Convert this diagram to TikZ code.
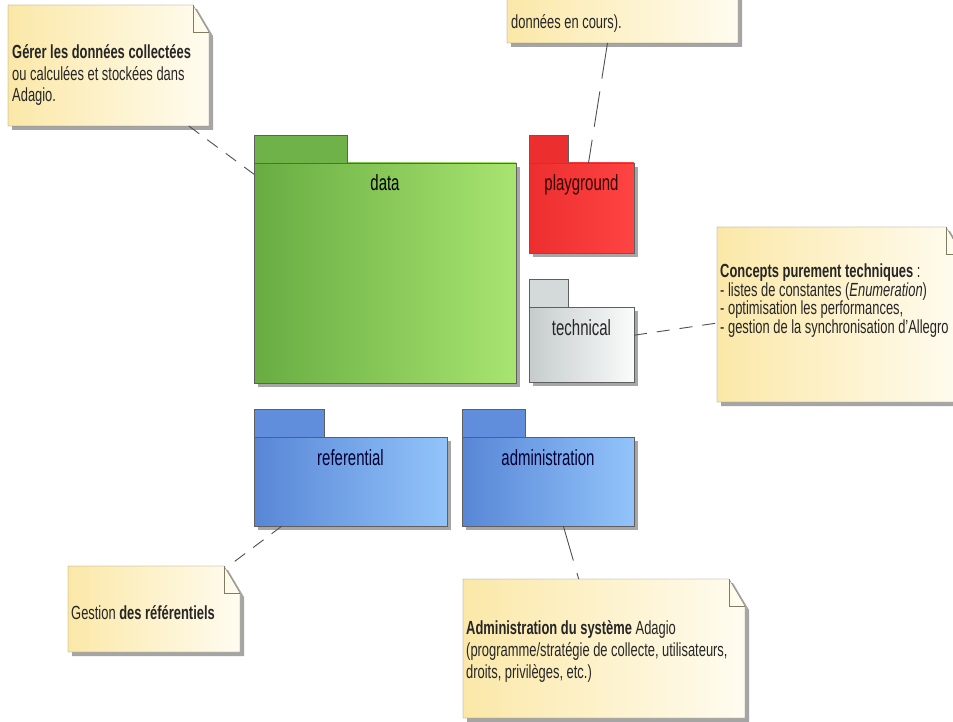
\documentclass[tikz,border=0pt]{standalone}
\usepackage{fontspec}
\setmainfont{Liberation Sans}[FakeStretch=0.68]
\usetikzlibrary{positioning, calc, shadows}

\definecolor{pkgLine}{RGB}{95,95,95}
\definecolor{dataLeft}{RGB}{104,172,66}
\definecolor{dataRight}{RGB}{168,228,112}
\definecolor{dataTab}{RGB}{112,178,74}
\definecolor{playLeft}{RGB}{236,46,46}
\definecolor{playRight}{RGB}{255,68,68}
\definecolor{techLeft}{RGB}{198,204,204}
\definecolor{techRight}{RGB}{250,251,251}
\definecolor{techTab}{RGB}{212,218,218}
\definecolor{refLeft}{RGB}{88,134,214}
\definecolor{refRight}{RGB}{146,196,250}
\definecolor{refTab}{RGB}{96,142,220}
\definecolor{noteLeft}{RGB}{251,232,168}
\definecolor{noteRight}{RGB}{255,252,240}
\definecolor{noteLine}{RGB}{128,124,100}
\definecolor{noteShadow}{RGB}{165,165,165}
\definecolor{linkGray}{RGB}{80,80,80}

\begin{document}
\begin{tikzpicture}[
            x=1pt, y=1pt,
            pkg body/.style={
                draw=pkgLine, line width=.8pt,
                inner sep=0pt, outer sep=0pt, anchor=north west,
                drop shadow={shadow xshift=4pt, shadow yshift=-4pt,
                             fill=black, opacity=.35},
            },
            pkg tab/.style={draw=pkgLine, line width=.8pt, inner sep=0pt,
                            outer sep=0pt, minimum height=28pt},
            pkg name/.style={font=\fontsize{22}{25}\selectfont, anchor=base},
            note frame/.style={inner sep=0pt, outer sep=0pt, anchor=north west},
            note text/.style={
                font=\fontsize{19}{21.7}\selectfont, text=black!85,
                align=left, inner sep=0pt, anchor=base west,
            },
            note link/.style={draw=linkGray, line width=.9pt,
                              dash pattern=on 13pt off 10pt},
            long link/.style={note link, dash pattern=on 36pt off 13pt},
        ]
        \useasboundingbox (0,0) rectangle (953,-722);
        \clip (0,0) rectangle (953,-722);
        \fill[white] (0,0) rectangle (953,-722);

        % packages
        \node[pkg body, minimum width=262pt, minimum height=220pt,
              left color=dataLeft, right color=dataRight] (data) at (254,-163) {};
        \node[pkg tab, minimum width=93pt, fill=dataTab,
              above right=0pt of data.north west] (dataTab) {};
        \node[pkg name] (dataName) at ($(data.north)+(0,-28)$) {data};

        \node[pkg body, minimum width=105pt, minimum height=90pt,
              left color=playLeft, right color=playRight] (playground) at (529,-163) {};
        \node[pkg tab, minimum width=39pt, fill=playLeft,
              above right=0pt of playground.north west] (playTab) {};
        \node[pkg name, text=black!80!red] (playName)
              at ($(playground.north)+(0,-28)$) {playground};

        \node[pkg body, minimum width=105pt, minimum height=75pt,
              left color=techLeft, right color=techRight] (technical) at (529,-307) {};
        \node[pkg tab, minimum width=39pt, fill=techTab,
              above right=0pt of technical.north west] (techTab) {};
        \node[pkg name, text=black!85] (techName)
              at ($(technical.north)+(0,-28)$) {technical};

        \node[pkg body, minimum width=193pt, minimum height=89pt,
              left color=refLeft, right color=refRight] (referential) at (254,-437) {};
        \node[pkg tab, minimum width=70pt, fill=refTab,
              above right=0pt of referential.north west] (refTab) {};
        \node[pkg name, text=black!80!blue] (refName)
              at ($(referential.north)+(0,-28)$) {referential};

        \node[pkg body, minimum width=172pt, minimum height=89pt,
              left color=refLeft, right color=refRight] (administration) at (462,-437) {};
        \node[pkg tab, minimum width=63pt, fill=refTab,
              above right=0pt of administration.north west] (admTab) {};
        \node[pkg name, text=black!80!blue] (admName)
              at ($(administration.north)+(0,-28)$) {administration};

        % notes
        \node[note frame, minimum width=201pt, minimum height=121pt] (nData) at (8,-5) {};
        \node[note frame, minimum width=231pt, minimum height=93pt] (nPlay) at (507,50) {};
        \node[note frame, minimum width=245pt, minimum height=175pt] (nTech) at (717,-227) {};
        \node[note frame, minimum width=172pt, minimum height=86pt] (nRef) at (68,-566) {};
        \node[note frame, minimum width=282pt, minimum height=139pt] (nAdm) at (463,-579) {};

        \foreach \n in {nData, nPlay, nTech, nRef, nAdm} {
            \fill[noteShadow] ($(\n.north west)+(4,-4)$) -- ($(\n.north east)+(-12,-4)$)
                -- ($(\n.north east)+(4,-31)$) -- ($(\n.south east)+(4,-4)$)
                -- ($(\n.south west)+(4,-4)$) -- cycle;
            \shadedraw[left color=noteLeft, right color=noteRight, draw=noteLine]
                (\n.north west) -- ($(\n.north east)+(-16,0)$)
                -- ($(\n.north east)+(0,-27)$) -- (\n.south east)
                -- (\n.south west) -- cycle;
            \draw[noteLine] ($(\n.north east)+(-16,0)$) |- ($(\n.north east)+(0,-27)$);
        }

        % base of a multi-line note is the baseline of its last line
        \node[note text] (tData) at ($(nData.north west)+(4,-97)$)
            {\textbf{Gérer les données collectées}\\ou calculées et stockées dans\\Adagio.};
        \node[note text] (tPlay) at ($(nPlay.north west)+(4,-79)$) {données en cours).};
        \node[note text, font=\fontsize{19}{18.4}\selectfont] (tTech)
            at ($(nTech.north west)+(3,-106)$)
            {\textbf{Concepts purement techniques} :\\- listes de constantes (\textit{Enumeration})\\- optimisation les performances,\\- gestion de la synchronisation d'Allegro};
        \node[note text] (tRef) at ($(nRef.north west)+(3,-53)$)
            {Gestion \textbf{des référentiels}};
        \node[note text] (tAdm) at ($(nAdm.north west)+(3,-99)$)
            {\textbf{Administration du système} Adagio\\(programme/stratégie de collecte, utilisateurs,\\droits, privilèges, etc.)};

        % links
        \draw[note link] (nData.-37) -- (data.143);
        \draw[long link] ($(nPlay.south)+(-15,0)$) -- ($(playground.north)+(7,0)$);
        \draw[note link] (technical.10) -- (nTech.184);
        \draw[note link] (referential.213) -- (nRef.30);
        \draw[long link] (administration.-71) -- (nAdm.110);
        \end{tikzpicture}
\end{document}
